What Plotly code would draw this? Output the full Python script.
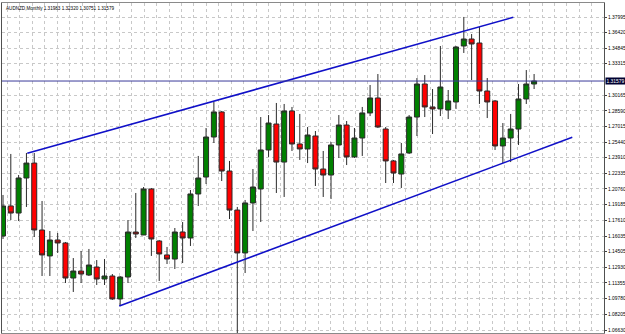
import plotly.graph_objects as go

# ---- data (AUDNZD monthly) ----
opens = [1.1605, 1.1906, 1.1835, 1.2186, 1.2336, 1.1665, 1.1405, 1.1565, 1.1535, 1.1184,
         1.1254, 1.1214, 1.1294, 1.1174, 1.1204, 1.0974, 1.1194, 1.1645, 1.1615, 1.2076,
         1.1555, 1.1415, 1.1374, 1.1645, 1.1585, 1.2026, 1.2196, 1.2597, 1.2848, 1.2256,
         1.1865, 1.1435, 1.1936, 1.2076, 1.2467, 1.2727, 1.2346, 1.2858, 1.2527, 1.2477,
         1.2607, 1.2276, 1.2216, 1.2517, 1.2717, 1.2397, 1.2587, 1.2838, 1.2988, 1.2677,
         1.2357, 1.2226, 1.2437, 1.2797, 1.3128, 1.2898, 1.2878, 1.2868, 1.2948, 1.3509,
         1.3579, 1.3539, 1.3058, 1.2958, 1.2507, 1.2587, 1.2677, 1.2978, 1.3128]
highs = [1.2016, 1.2427, 1.2216, 1.2437, 1.2437, 1.1956, 1.1655, 1.1635, 1.1545, 1.1384,
         1.1455, 1.1475, 1.1364, 1.1374, 1.1224, 1.1204, 1.1765, 1.2036, 1.2096, 1.2086,
         1.1565, 1.1495, 1.1685, 1.1745, 1.2066, 1.2407, 1.2687, 1.2948, 1.2858, 1.2357,
         1.1896, 1.1966, 1.2276, 1.2797, 1.2817, 1.2938, 1.2928, 1.2898, 1.2828, 1.2697,
         1.2657, 1.2457, 1.2547, 1.2817, 1.2757, 1.2687, 1.2898, 1.3118, 1.3228, 1.2697,
         1.2367, 1.2537, 1.2817, 1.3188, 1.3218, 1.3078, 1.3509, 1.3068, 1.3509, 1.3800,
         1.3629, 1.3699, 1.3188, 1.2968, 1.2737, 1.2828, 1.3128, 1.3268, 1.3228]
lows = [1.1575, 1.1765, 1.1755, 1.1896, 1.1595, 1.1204, 1.1204, 1.1435, 1.1134, 1.1044,
        1.1134, 1.1204, 1.1114, 1.1114, 1.0964, 1.0903, 1.1134, 1.1585, 1.1615, 1.1405,
        1.1154, 1.1324, 1.1274, 1.1334, 1.1505, 1.1906, 1.2126, 1.2537, 1.2156, 1.1775,
        1.0513, 1.1234, 1.1655, 1.1745, 1.2397, 1.2036, 1.1996, 1.2457, 1.2367, 1.2336,
        1.2106, 1.1996, 1.1976, 1.2387, 1.2316, 1.2387, 1.2407, 1.2807, 1.2687, 1.2136,
        1.2136, 1.2086, 1.2427, 1.2607, 1.2797, 1.2627, 1.2807, 1.2777, 1.2878, 1.3439,
        1.3168, 1.2928, 1.2787, 1.2467, 1.2336, 1.2346, 1.2517, 1.2928, 1.3078]
closes = [1.1906, 1.1835, 1.2186, 1.2336, 1.1665, 1.1415, 1.1565, 1.1535, 1.1184, 1.1254,
          1.1224, 1.1314, 1.1174, 1.1204, 1.0974, 1.1194, 1.1645, 1.1625, 1.2076, 1.1575,
          1.1425, 1.1374, 1.1645, 1.1585, 1.2026, 1.2186, 1.2597, 1.2848, 1.2256, 1.1865,
          1.1435, 1.1936, 1.2096, 1.2467, 1.2737, 1.2346, 1.2858, 1.2527, 1.2477, 1.2617,
          1.2276, 1.2216, 1.2517, 1.2717, 1.2397, 1.2587, 1.2838, 1.2988, 1.2697, 1.2357,
          1.2236, 1.2427, 1.2797, 1.3128, 1.2898, 1.2878, 1.3098, 1.2958, 1.3499, 1.3579,
          1.3529, 1.3058, 1.2948, 1.2507, 1.2587, 1.2677, 1.2978, 1.3128, 1.3158]
bar_index = list(range(1, len(opens) + 1))

# channel lines (bar index, price)
upper_x = [4.11, 66.34]
upper_y = [1.24337, 1.37965]
lower_x = [15.89, 73.89]
lower_y = [1.0903, 1.2594]

current_price = 1.31579
price_ticks = [1.37995, 1.36420, 1.34845, 1.33315, 1.30165, 1.28590, 1.27015, 1.25440,
               1.23910, 1.22335, 1.20760, 1.19185, 1.17610, 1.16035, 1.14505, 1.12930,
               1.11355, 1.09780, 1.08205, 1.06630]
title_text = "AUDNZD,Monthly 1.31983 1.32320 1.30751 1.31579"

fig = go.Figure()
fig.add_trace(go.Candlestick(
    x=bar_index, open=opens, high=highs, low=lows, close=closes,
    increasing=dict(fillcolor="#008000", line=dict(color="#2a2a2a", width=1)),
    decreasing=dict(fillcolor="#FF0000", line=dict(color="#2a2a2a", width=1)),
    whiskerwidth=0, showlegend=False, hoverinfo="skip"))

fig.add_trace(go.Scatter(x=upper_x, y=upper_y, mode="lines",
                         line=dict(color="#1010C8", width=1.6), showlegend=False, hoverinfo="skip"))
fig.add_trace(go.Scatter(x=lower_x, y=lower_y, mode="lines",
                         line=dict(color="#1010C8", width=1.6), showlegend=False, hoverinfo="skip"))

fig.add_hline(y=current_price, line=dict(color="#3A3A9A", width=1))

fig.add_annotation(xref="paper", yref="paper", x=0, y=1, xanchor="left", yanchor="top",
                   xshift=2, yshift=-1, text=title_text, showarrow=False,
                   font=dict(family="Liberation Sans", size=4.6, color="#000000"))
fig.add_annotation(xref="paper", yref="y", x=1, y=current_price, xanchor="left", yanchor="middle",
                   xshift=1, text="1.31579", showarrow=False, bgcolor="#000030",
                   font=dict(family="Liberation Sans", size=4.9, color="#FFFFFF"), borderpad=0.5)

fig.update_layout(
    width=625, height=334,
    margin=dict(l=2, r=21, t=3, b=1, autoexpand=False),
    paper_bgcolor="white", plot_bgcolor="white",
    boxgap=0.36, boxgroupgap=0,
    font=dict(family="Liberation Sans", size=4.9, color="#000000"),
    xaxis=dict(range=[0.872, 77.95], rangeslider=dict(visible=False), automargin=False,
               showticklabels=False, ticks="", tick0=1.576, dtick=1.5916,
               showgrid=True, gridcolor="#C8C8C8", griddash="dot", gridwidth=1,
               showline=True, mirror=True, linecolor="#8a8a8a", linewidth=1, zeroline=False),
    yaxis=dict(range=[1.06329, 1.39398], side="right", tickmode="array", automargin=False,
               tickvals=price_ticks, ticktext=[f"{v:.5f}" for v in price_ticks],
               ticks="outside", ticklen=2, tickcolor="#404040", ticklabelstandoff=0,
               showgrid=True, gridcolor="#C8C8C8", griddash="dot", gridwidth=1,
               showline=True, mirror=True, linecolor="#505050", linewidth=1, zeroline=False),
)

fig.write_html("out.html")
